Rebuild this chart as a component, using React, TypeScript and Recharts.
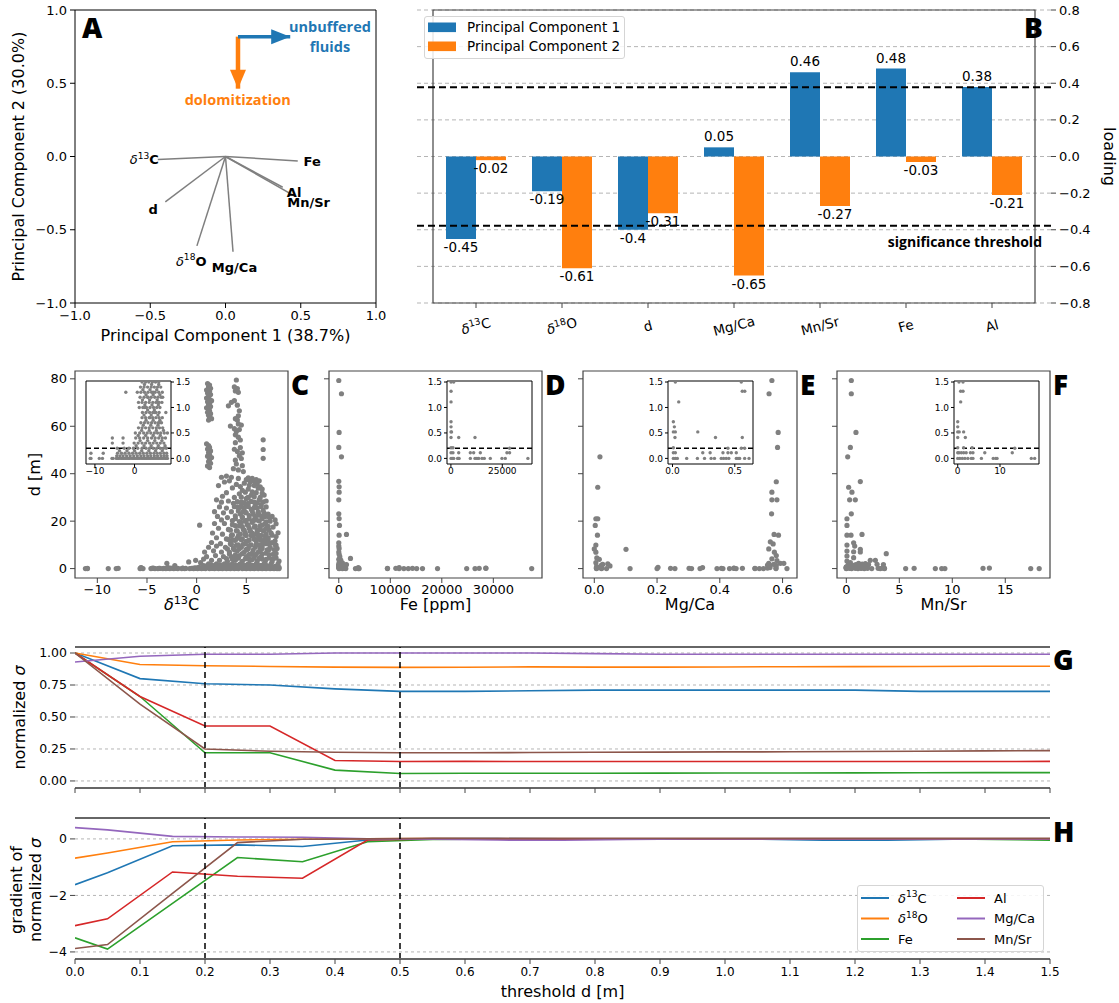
import React from 'react';
import {
  ScatterChart, Scatter, XAxis, YAxis, ReferenceArea, ReferenceLine,
  BarChart, Bar, LabelList, CartesianGrid, LineChart, Line, Legend,
} from 'recharts';

const FONT = '"DejaVu Sans", sans-serif';
const HEAD_FONT = '"Open Sans", "DejaVu Sans", sans-serif';
const GREY = '#808080';
const SPINE = '#444444';
const BLUE = '#1f77b4';
const ORANGE = '#ff7f0e';
const GREEN = '#2ca02c';
const RED = '#d62728';
const PURPLE = '#9467bd';
const BROWN = '#8c564b';

// ---------------- PCA loadings (panels A, B)
const VARIABLES = ['δ13C', 'δ18O', 'd', 'Mg/Ca', 'Mn/Sr', 'Fe', 'Al'];
const PC1_LOADING = [-0.45, -0.19, -0.4, 0.05, 0.46, 0.48, 0.38];
const PC2_LOADING = [-0.02, -0.61, -0.31, -0.65, -0.27, -0.03, -0.21];
const SIGNIFICANCE = 0.378;
const PC_TICKS = [-1, -0.5, 0, 0.5, 1];
const LOADING_TICKS = [-0.8, -0.6, -0.4, -0.2, 0, 0.2, 0.4, 0.6, 0.8];

// ---------------- scatter data (panels C-F): [value, d]
type Pt = [number, number];
const D_TICKS = [0, 20, 40, 60, 80];
const INSET_TICKS = [0, 0.5, 1, 1.5];
const INSET_THRESHOLD = 0.2;

const C_UPPER: Pt[] = [
  [1.1, 78], [1.3, 77.4], [1.2, 76.6], [1.4, 76], [1.0, 75.3], [1.3, 74.8], [1.1, 74], [1.4, 73.4], [1.2, 72.6], [1.0, 71.9],
  [1.3, 71.3], [1.5, 70.8], [1.1, 70.3], [1.3, 69.7], [1.2, 69], [1.4, 68.3], [1.0, 67.8], [1.2, 67.2], [1.3, 66.5], [1.1, 65.9],
  [1.4, 65.3], [1.2, 64.6], [1.3, 63.9], [1.5, 63.2], [1.2, 62.6],
  [1.0, 52.6], [1.2, 51.9], [1.3, 51.1], [1.1, 50.4], [1.4, 49.6], [1.2, 48.9], [1.3, 48.1], [1.1, 47.4], [1.5, 46.8], [1.3, 46],
  [1.2, 45.1], [1.4, 44.4], [1.1, 43.3], [1.3, 42.6],
  [4.0, 79.5], [3.8, 76.6], [4.1, 75.9], [3.9, 74.9], [4.2, 74.3], [3.2, 68.6], [3.5, 70.1], [3.8, 70.8], [4.1, 68.9], [4.3, 66.5],
  [4.2, 64.4], [3.4, 60.1], [4.1, 62.6], [4.0, 57.8], [4.2, 55.4], [3.9, 53.1], [4.4, 51], [4.1, 49.4], [4.3, 47.6], [4.5, 46.4],
  [4.0, 44.1], [4.6, 43.4], [3.7, 42.1], [4.2, 41.6], [4.7, 40.9], [3.8, 59], [4.3, 58.6], [4.2, 61], [3.9, 63.2], [4.5, 60.5],
  [3.9, 56.4], [4.4, 54.2], [3.8, 50.3], [4.6, 48.8], [3.9, 45.7],
  [6.7, 54.3], [6.7, 50.2], [6.7, 46.5], [0.3, 18.3],
  [2.5, 38.5], [3.0, 39], [3.5, 38.5], [4.2, 38], [5.0, 37.5], [5.6, 38], [6.0, 37.5], [6.3, 37], [5.4, 36.5], [4.8, 36],
  [3.3, 37], [2.8, 36.5], [4.0, 35.5], [5.8, 35], [6.4, 34.5], [6.6, 33.5], [3.6, 34], [2.2, 35], [4.6, 33], [5.2, 33.5],
  [6.0, 32], [3.0, 32], [4.3, 31.5], [5.5, 31], [6.8, 31], [2.6, 30.5], [3.8, 30], [5.0, 29.5], [6.3, 29], [7.0, 28.5],
  [2.0, 29], [2.5, 28], [3.2, 28.5], [3.7, 27.5], [4.5, 28], [5.2, 27.5], [5.8, 28], [6.5, 27], [7.0, 26], [2.3, 26],
  [3.0, 25.5], [4.1, 26], [4.8, 25.5], [5.5, 25], [6.1, 25.5], [6.7, 24.5], [1.8, 24], [2.7, 23.5], [3.5, 24], [4.4, 23],
  [5.0, 23.5], [5.7, 23], [6.3, 22.5], [7.2, 23], [7.6, 22], [2.1, 22], [3.1, 21.5], [3.9, 21], [4.6, 21.5], [5.3, 21],
  [6.0, 20.5], [6.6, 21], [7.4, 20], [7.9, 20.5], [2.5, 20.5], [4.9, 20], [5.6, 19.5],
  [1.8, 19], [2.8, 19], [3.6, 18.5], [4.3, 18], [5.1, 18.5], [5.8, 17.5], [6.4, 18], [7.0, 17], [7.7, 17.5], [2.2, 17],
  [3.2, 16.5], [4.0, 16], [4.7, 16.5], [5.4, 16], [6.1, 15.5], [6.8, 16], [7.5, 15], [1.6, 15], [2.6, 14.5], [3.5, 14],
  [4.4, 14.5], [5.0, 14], [5.7, 13.5], [6.5, 14], [7.2, 13], [8.0, 13.5], [2.0, 13], [3.0, 12.5], [3.8, 12], [4.6, 12.5],
  [5.3, 12], [6.0, 11.5], [6.8, 12], [7.6, 11], [1.5, 11], [2.4, 10.5], [3.4, 10.5], [4.2, 10], [4.9, 10.5], [5.5, 10],
  [6.3, 10], [7.0, 10.5], [7.9, 10],
  [1.2, 9], [2.0, 9.5], [2.9, 9], [3.7, 8.5], [4.5, 9], [5.2, 8.5], [5.9, 9], [6.6, 8.5], [7.3, 8], [8.1, 8.5],
  [0.8, 7], [1.7, 7.5], [2.5, 7], [3.3, 7], [4.1, 7.5], [4.8, 7], [5.6, 6.5], [6.2, 7], [7.0, 6.5], [7.7, 6],
  [1.0, 5], [1.9, 5.5], [2.7, 5], [3.5, 5], [4.3, 5.5], [5.0, 5], [5.8, 4.5], [6.5, 5], [7.3, 4.5], [8.0, 4.5],
  [0.7, 4], [1.5, 3.5], [2.3, 3.5], [3.1, 3], [3.9, 3.5], [4.6, 3], [5.4, 3.5], [6.1, 3], [6.9, 3], [7.6, 3],
  [-0.8, 2.8], [-3.0, 2.2], [-0.1, 3.5], [0.4, 2.5], [1.2, 2], [2.0, 2], [2.8, 2], [3.6, 2], [4.4, 2], [5.2, 2],
  [6.0, 2], [6.8, 2], [7.5, 2], [8.2, 2],
  [4.7, 24], [5.9, 22], [6.9, 19], [5.6, 15], [6.2, 12.5], [4.1, 12.8], [5.1, 8], [6.0, 6], [6.7, 10.8], [5.3, 17],
  [4.5, 19.5], [6.4, 16.5], [7.0, 14.5], [5.8, 20.5], [6.9, 22], [5.0, 26.5], [6.2, 23.5], [4.9, 15], [5.5, 6], [6.4, 7.5],
  [4.0, 4.5], [5.0, 11.5], [6.6, 4], [7.4, 9], [3.6, 12], [5.9, 26.5], [6.4, 30], [5.2, 30], [4.5, 26.5], [6.0, 14.5], [5.3, 4],
];
const C_CORE: Pt[] = [
  [3.4, 1.2], [3.9, 0.8], [4.7, 1.3], [5.1, 0.9], [5.9, 1.1], [6.3, 0.7], [7.1, 1.2], [7.9, 0.9], [2.6, 1.0],
  [3.0, 4.2], [3.6, 3.9], [4.2, 4.4], [4.9, 4.1], [5.6, 3.8], [6.3, 4.3], [7.0, 3.9], [7.7, 4.1], [8.3, 3.2],
  [3.3, 6.1], [3.9, 5.8], [4.6, 6.3], [5.3, 6.0], [5.9, 5.7], [6.6, 6.2], [7.3, 5.9], [8.0, 6.4],
  [3.1, 8.3], [3.8, 7.9], [4.3, 8.4], [5.0, 8.1], [5.7, 7.8], [6.4, 8.3], [7.1, 7.9], [7.8, 8.0],
  [3.5, 10.2], [4.0, 9.8], [4.7, 10.3], [5.3, 9.7], [6.0, 10.1], [6.6, 9.6], [7.3, 10.4], [8.0, 9.9],
  [3.2, 12.3], [3.9, 11.9], [4.5, 12.2], [5.2, 11.8], [5.8, 12.4], [6.5, 11.9], [7.2, 12.1], [7.9, 11.7],
  [3.6, 14.2], [4.2, 13.8], [4.9, 14.3], [5.5, 13.9], [6.2, 14.2], [6.9, 13.7], [7.6, 14.1], [8.2, 15.1],
  [3.4, 16.2], [4.1, 15.8], [4.8, 16.1], [5.4, 15.7], [6.1, 16.3], [6.7, 15.9], [7.3, 16.2],
  [3.9, 18.1], [4.6, 17.7], [5.2, 18.2], [5.9, 17.9], [6.6, 18.3], [7.2, 17.8], [8.0, 18.9],
  [3.6, 20.2], [4.3, 19.8], [5.0, 20.3], [5.6, 19.9], [6.3, 20.1], [7.0, 19.7],
  [3.9, 22.2], [4.6, 21.8], [5.3, 22.3], [5.9, 21.7], [6.6, 22.1], [7.3, 21.6],
  [4.2, 24.3], [4.9, 23.8], [5.6, 24.2], [6.2, 23.9], [6.8, 23.4],
  [3.8, 26.1], [4.4, 25.8], [5.2, 26.2], [5.8, 25.7], [6.5, 26.1],
  [4.1, 28.2], [4.8, 27.8], [5.5, 28.3], [6.1, 27.7], [6.7, 28.1],
  [4.5, 30.1], [5.1, 29.8], [5.8, 30.3], [6.6, 31.8], [4.9, 32.2], [5.6, 32.4], [6.2, 33.9], [5.3, 35.1], [5.9, 36.2],
  [4.4, 34.6], [6.1, 35.8], [5.2, 38.2], [5.8, 36.9],
];
const C_LOW_ROWS: [number, number[]][] = [
  [0, [-11.2, -11.0, -8.9, -8.1, -5.7, -5.4, -4.6, -4.2, -3.9, -3.4, -3.1, -2.7, -2.3, -1.9, -1.5, -1.2, -0.7, -0.3, 0.1, 0.5, 0.9, 1.3, 1.8, 2.2, 2.6, 3.0, 3.4, 3.8, 4.2, 4.6, 5.0, 5.4, 5.8, 6.2, 6.6, 7.0, 7.4, 7.8, 8.1, 8.3]],
  [0.05, [-4.5, -3.7, -2.9, -2.0, -1.1, -0.2, 0.7, 1.6, 2.4, 3.3, 4.1, 5.0, 5.8, 6.7, 7.5, 8.2]],
  [0.1, [-11.0, -7.9, -4.3, -3.3, -2.4, -1.4, -0.5, 0.4, 1.3, 2.2, 3.1, 4.0, 4.9, 5.7, 6.5, 7.4, 8.1]],
  [0.15, [-3.8, -1.9, 0.0, 1.8, 3.6, 5.3, 7.0]],
  [0.2, [-4.4, -2.6, -1.4, -0.3, 0.8, 1.9, 2.9, 3.8, 4.7, 5.6, 6.5, 7.3, 8.0]],
  [0.25, [0.4, 2.4, 4.2, 6.0, 7.7]],
  [0.3, [-5.6, -2.9, -0.1, 0.9, 1.9, 2.8, 3.8, 4.7, 5.6, 6.5, 7.4]],
  [0.35, [1.4, 3.3, 5.1, 6.9]],
  [0.4, [-5.6, -2.9, 0.3, 1.3, 2.3, 3.3, 4.3, 5.2, 6.1, 7.0, 7.8]],
  [0.45, [0.9, 2.8, 4.7, 6.5]],
  [0.5, [0.2, 1.3, 2.3, 3.2, 4.1, 5.0, 5.8, 6.6, 7.5, 8.3]],
  [0.55, [1.8, 3.7, 5.5, 7.3]],
  [0.6, [1.0, 1.9, 2.8, 3.7, 4.6, 5.5, 6.3, 7.1]],
  [0.65, [2.2, 4.1, 5.9]],
  [0.7, [1.6, 2.5, 3.4, 4.3, 5.2, 6.0, 6.8]],
  [0.75, [2.9, 4.7, 6.4]],
  [0.8, [1.9, 2.8, 3.7, 4.6, 5.4, 6.2, 7.0]],
  [0.85, [2.4, 4.2, 5.9]],
  [0.9, [2.0, 2.9, 3.8, 4.6, 5.4, 6.2]],
  [0.95, [3.3, 5.0]],
  [1.0, [1.2, 2.1, 3.0, 3.9, 4.8, 5.6, 6.4]],
  [1.05, [2.6, 4.4, 6.0]],
  [1.1, [1.0, 1.9, 2.8, 3.7, 4.6, 5.4, 6.2, 6.9]],
  [1.15, [2.0, 3.8, 5.7]],
  [1.2, [1.4, 2.4, 3.3, 4.2, 5.1, 5.9, 6.7]],
  [1.25, [2.9, 4.7, 6.4]],
  [1.3, [-2.2, 0.7, 1.6, 2.5, 3.4, 4.3, 5.2, 6.1, 7.0]],
  [1.35, [2.1, 3.9, 5.6]],
  [1.4, [1.5, 2.4, 3.3, 4.2, 5.0, 5.8, 6.6]],
  [1.45, [2.5, 4.3, 6.1]],
  [1.5, [1.9, 2.8, 3.6, 4.5, 5.3, 6.1]],
];
const D_FE: Pt[] = [
  [0, 79.3], [520, 73.7], [65, 57.4], [0, 51.1], [520, 47.1], [0, 36.8], [65, 34.5], [65, 32.2], [0, 29], [0, 23.1],
  [65, 21.1], [130, 18.2], [65, 14.1], [1490, 14.4], [0, 10.9], [0, 9.5], [65, 8.5], [0, 7], [65, 6], [200, 5],
  [0, 3.9], [390, 3.6], [65, 2.5], [0, 1.8], [520, 1.9], [2270, 4.3], [1490, 1.7], [260, 2.2], [700, 2.4],
  [65, 1.5], [1360, 1.5], [65, 1.32], [65, 1.11], [65, 0.72], [65, 0.62], [65, 0.52], [300, 0.52], [65, 0.41], [3790, 0.41],
  [11720, 0.41], [65, 0.21], [1000, 0.21], [65, 0.11], [1000, 0.11], [3790, 0.11], [9450, 0.11], [11070, 0.11], [14310, 0.11],
  [27260, 0.11], [28550, 0.11], [28550, 0.2], [65, 0], [700, 0], [1360, 0], [3240, 0], [3790, 0], [3950, 0], [9450, 0],
  [11720, 0], [12630, 0], [13500, 0], [15120, 0], [16250, 0], [19170, 0], [24830, 0], [26450, 0], [37450, 0],
];
const E_MGCA: Pt[] = [
  [0.566, 79.3], [0.557, 73.7], [0.586, 57.4], [0.584, 51.1], [0.018, 47.1], [0.011, 34.3], [0.58, 36.6], [0.566, 32.2],
  [0.582, 29], [0.566, 29], [0.565, 23.1], [0.005, 21], [0.011, 21], [0.003, 18.2], [0.01, 14.1], [0.005, 9.9], [0.0, 8.3],
  [0.005, 6.9], [0.008, 4.5], [0.016, 3.9], [0.005, 2.5], [0.027, 1.8], [0.043, 2.0], [0.101, 8.1], [0.573, 14.4],
  [0.587, 14.1], [0.561, 11.3], [0.57, 10.4], [0.556, 8.3], [0.574, 6.9], [0.58, 5.5], [0.566, 4.1], [0.582, 3.4],
  [0.593, 2.2], [0.604, 2.2], [0.556, 2.2], [0.572, 1.8],
  [0.023, 1.5], [0.552, 1.5], [0.05, 1.11], [0.56, 1.32], [0.58, 1.32], [0.007, 0.72], [0.015, 0.62], [0.007, 0.52],
  [0.023, 0.52], [0.02, 0.41], [0.203, 0.52], [0.345, 0.41], [0.56, 0.41], [0.007, 0.21], [0.007, 0.11], [0.023, 0.11],
  [0.243, 0.11], [0.302, 0.11], [0.405, 0.11], [0.445, 0.11], [0.472, 0.11], [0.512, 0.11], [0.445, 0.2], [0.552, 0.2],
  [0.579, 0.2], [0.007, 0], [0.023, 0], [0.039, 0], [0.114, 0], [0.2, 0], [0.257, 0], [0.31, 0], [0.337, 0], [0.391, 0],
  [0.41, 0], [0.431, 0], [0.452, 0], [0.512, 0], [0.526, 0], [0.539, 0], [0.579, 0], [0.614, 0],
];
const F_MNSR: Pt[] = [
  [0.47, 79.3], [0.47, 73.7], [0.91, 57.4], [0.38, 51.1], [0.13, 47.1], [1.32, 36.7], [0.22, 34.3], [0.53, 32.2], [0.31, 29],
  [0.85, 29], [0.47, 23.1], [0.06, 21], [0.06, 18.2], [0.06, 14.1], [0.44, 14.1], [1.48, 14.4], [0.06, 9.9], [0.69, 10.9],
  [0.79, 9.5], [0.06, 7.4], [0.69, 7.1], [1.32, 8.1], [1.32, 7.0], [3.77, 6.3], [0.06, 5.3], [0.69, 4.6], [0.06, 3.2],
  [2.26, 3.5], [2.74, 3.5], [0.38, 2.5], [1.16, 2.2], [1.8, 2.1], [0.2, 1.8], [0.9, 1.7], [1.5, 1.9], [2.1, 1.7], [2.9, 1.8],
  [3.5, 1.7],
  [0.3, 1.5], [1.25, 1.5], [0.7, 1.32], [1.25, 1.32], [0.7, 1.11], [0, 0.72], [0, 0.62], [0, 0.52], [0.35, 0.52], [1.4, 0.52],
  [0, 0.41], [1.8, 0.41], [0, 0.21], [1.4, 0.21], [3.4, 0.21], [13.5, 0.2], [0, 0.11], [0.3, 0.11], [0.85, 0.11], [1.4, 0.11],
  [2.0, 0.11], [3.0, 0.11], [3.6, 0.11], [6.4, 0.11], [12.9, 0.11], [0, 0], [0.5, 0], [1.1, 0], [1.7, 0], [2.4, 0], [3.2, 0],
  [3.6, 0], [5.6, 0], [8.4, 0], [9.0, 0], [9.3, 0], [17.4, 0], [18.2, 0],
];

// ---------------- threshold analysis (panels G, H)
const THRESHOLD_TICKS = [0, 0.1, 0.2, 0.3, 0.4, 0.5, 0.6, 0.7, 0.8, 0.9, 1.0, 1.1, 1.2, 1.3, 1.4, 1.5];
const MARKED_THRESHOLDS = [0.2, 0.5];
const G_THRESHOLD = [0, 0.1, 0.2, 0.3, 0.4, 0.5, 0.6, 0.7, 0.8, 0.9, 1.0, 1.1, 1.2, 1.3, 1.4, 1.5];
const G_D13C = [1.0, 0.8, 0.76, 0.75, 0.72, 0.7, 0.7, 0.705, 0.71, 0.71, 0.71, 0.71, 0.71, 0.7, 0.7, 0.7];
const G_D18O = [1.0, 0.91, 0.9, 0.895, 0.89, 0.888, 0.889, 0.892, 0.89, 0.89, 0.891, 0.893, 0.894, 0.895, 0.896, 0.897];
const G_FE = [1.0, 0.66, 0.22, 0.22, 0.085, 0.058, 0.06, 0.06, 0.06, 0.061, 0.062, 0.062, 0.063, 0.064, 0.065, 0.065];
const G_AL = [1.0, 0.66, 0.43, 0.43, 0.16, 0.152, 0.153, 0.152, 0.152, 0.152, 0.152, 0.152, 0.152, 0.152, 0.152, 0.153];
const G_MGCA = [0.93, 0.975, 0.99, 0.99, 1.0, 1.0, 1.0, 1.0, 0.995, 0.99, 0.99, 0.99, 0.99, 0.99, 0.99, 0.99];
const G_MNSR = [1.0, 0.6, 0.25, 0.232, 0.224, 0.22, 0.221, 0.222, 0.224, 0.225, 0.227, 0.228, 0.23, 0.232, 0.235, 0.237];

const H_THRESHOLD = [0, 0.05, 0.15, 0.25, 0.35, 0.45, 0.55, 0.65, 0.75, 0.85, 0.95, 1.05, 1.15, 1.25, 1.35, 1.45, 1.5];
const H_D13C = [-1.62, -1.2, -0.24, -0.21, -0.27, -0.04, 0.01, 0.01, 0.0, 0.0, 0.0, -0.01, -0.05, -0.05, -0.01, 0.0, 0.0];
const H_D18O = [-0.68, -0.5, -0.1, -0.04, -0.01, 0.0, 0.01, 0.0, 0.0, 0.0, 0.0, 0.0, 0.0, 0.0, 0.0, 0.0, 0.0];
const H_FE = [-3.5, -3.9, -2.28, -0.66, -0.81, -0.1, -0.02, 0.0, 0.0, 0.0, 0.0, 0.0, 0.0, 0.0, 0.0, -0.03, -0.05];
const H_AL = [-3.07, -2.83, -1.17, -1.32, -1.39, -0.04, 0.0, 0.0, 0.0, 0.0, 0.0, 0.0, 0.0, 0.0, 0.0, 0.0, 0.0];
const H_MGCA = [0.4, 0.32, 0.09, 0.07, 0.06, 0.0, -0.01, -0.04, -0.05, -0.02, 0.0, 0.0, 0.0, 0.0, 0.0, 0.0, 0.0];
const H_MNSR = [-3.88, -3.74, -1.93, -0.13, -0.01, 0.0, 0.02, 0.02, 0.02, 0.02, 0.02, 0.02, 0.02, 0.02, 0.02, 0.02, 0.02];

const SERIES = [
  { key: 'd13C', name: 'δ13C', color: BLUE },
  { key: 'd18O', name: 'δ18O', color: ORANGE },
  { key: 'fe', name: 'Fe', color: GREEN },
  { key: 'al', name: 'Al', color: RED },
  { key: 'mgca', name: 'Mg/Ca', color: PURPLE },
  { key: 'mnsr', name: 'Mn/Sr', color: BROWN },
];

// ---------------- derived tables
const toPts = (a: Pt[]) => a.map(([x, y]) => ({ x, y }));
const C_POINTS = [
  ...toPts(C_UPPER),
  ...toPts(C_CORE),
  ...C_LOW_ROWS.flatMap(([d, xs]) => xs.map((x) => ({ x, y: d }))),
];
const D_POINTS = toPts(D_FE);
const E_POINTS = toPts(E_MGCA);
const F_POINTS = toPts(F_MNSR);
const LOADINGS = VARIABLES.map((name, i) => ({ name, pc1: PC1_LOADING[i], pc2: PC2_LOADING[i] }));
const B_ROWS = LOADINGS;
const G_ROWS = G_THRESHOLD.map((x, i) => ({
  x, d13C: G_D13C[i], d18O: G_D18O[i], fe: G_FE[i], al: G_AL[i], mgca: G_MGCA[i], mnsr: G_MNSR[i],
}));
const H_ROWS = H_THRESHOLD.map((x, i) => ({
  x, d13C: H_D13C[i], d18O: H_D18O[i], fe: H_FE[i], al: H_AL[i], mgca: H_MGCA[i], mnsr: H_MNSR[i],
}));

// ---------------- helpers
const fmtNum = (v: number, digits: number) => (v < 0 ? '\u2212' : '') + Math.abs(v).toFixed(digits);

function varTspans(name: string, fs: number, bold = false) {
  const m = /^δ(\d+)(\w)$/.exec(name);
  const w = bold ? 'bold' : 'normal';
  if (!m) return <tspan fontWeight={w}>{name}</tspan>;
  const s = fs * 0.4;
  return [
    <tspan key="a" fontStyle="italic" fontWeight="normal">δ</tspan>,
    <tspan key="b" fontSize={fs * 0.7} fontWeight="normal" dy={-s}>{m[1]}</tspan>,
    <tspan key="c" fontWeight={w} dy={s}>{m[2]}</tspan>,
  ];
}

function place(rect: number[], pad: { l: number; t: number; r: number; b: number }) {
  const [L, T, R, B] = rect;
  return {
    style: { position: 'absolute' as const, left: L - pad.l, top: T - pad.t },
    width: R - L + pad.l + pad.r,
    height: B - T + pad.t + pad.b,
  };
}

const tickText = (fs: number) => ({ fontSize: fs, fill: '#000', fontFamily: FONT });
const noShape = () => <g />;
const bigDot = (p: any) => <circle cx={p.cx} cy={p.cy} r={2.6} fill={GREY} />;
const smallDot = (p: any) => <circle cx={p.cx} cy={p.cy} r={1.7} fill={GREY} />;

// ---------------- Panel A
const LoadingLabel = (p: any) => (
  <text x={p.cx} y={p.cy} dy="0.35em" textAnchor="middle" fontFamily={FONT} fontSize={13} fill="#000">
    {varTspans(p.payload.name, 13, true)}
  </text>
);
const makeArrowShape = (color: string) => (p: any) => {
  const { cx, cy, payload } = p;
  if (payload.head === 'down') return <polygon points={`${cx - 8},${cy - 19} ${cx + 8},${cy - 19} ${cx},${cy}`} fill={color} />;
  if (payload.head === 'right') return <polygon points={`${cx - 19},${cy - 7.5} ${cx - 19},${cy + 7.5} ${cx},${cy}`} fill={color} />;
  return <g />;
};
const AnnotationText = (p: any) => {
  const { cx, cy, payload } = p;
  const n = payload.lines.length;
  return (
    <text textAnchor="middle" fontFamily={HEAD_FONT} fontWeight={700} fontSize={14.5} fill={payload.color}>
      {payload.lines.map((t: string, i: number) => (
        <tspan key={i} x={cx} y={cy + (i - (n - 1) / 2) * 20 + 5}>{t}</tspan>
      ))}
    </text>
  );
};

function PanelA() {
  const pad = { l: 75, t: 10, r: 20, b: 45 };
  const p = place([75, 10, 376, 303], pad);
  const yw = 45, xh = 30;
  return (
    <div style={p.style}>
      <ScatterChart width={p.width} height={p.height} margin={{ left: pad.l - yw, right: pad.r, top: pad.t, bottom: pad.b - xh }}>
        <XAxis type="number" dataKey="x" domain={[-1, 1]} ticks={PC_TICKS} allowDataOverflow interval={0}
          tickFormatter={(v) => fmtNum(v, 1)} height={xh} axisLine={false} tickLine={{ stroke: '#000' }}
          tickSize={5} tickMargin={3} tick={tickText(13)} />
        <YAxis type="number" dataKey="y" domain={[-1, 1]} ticks={PC_TICKS} allowDataOverflow interval={0}
          tickFormatter={(v) => fmtNum(v, 1)} width={yw} axisLine={false} tickLine={{ stroke: '#000' }}
          tickSize={5} tickMargin={3} tick={tickText(13)} />
        <ReferenceArea x1={-1} x2={1} y1={-1} y2={1} fill="none" fillOpacity={0} stroke="#000" strokeWidth={1} ifOverflow="visible" />
        {LOADINGS.map((l) => (
          <Scatter key={l.name} data={[{ x: 0, y: 0 }, { x: l.pc1, y: l.pc2 }]} fill="#7f7f7f"
            line={{ stroke: '#7f7f7f', strokeWidth: 1.5 }} shape={noShape} isAnimationActive={false} />
        ))}
        <Scatter data={LOADINGS.map((l) => ({ x: l.pc1 * 1.2, y: l.pc2 * 1.17, name: l.name }))}
          shape={LoadingLabel} isAnimationActive={false} />
        <Scatter data={[{ x: 0.083, y: 0.818, head: '' }, { x: 0.083, y: 0.463, head: 'down' }]} fill={ORANGE}
          line={{ stroke: ORANGE, strokeWidth: 4.5 }} shape={makeArrowShape(ORANGE)} isAnimationActive={false} />
        <Scatter data={[{ x: 0.083, y: 0.818, head: '' }, { x: 0.43, y: 0.818, head: 'right' }]} fill={BLUE}
          line={{ stroke: BLUE, strokeWidth: 3.5 }} shape={makeArrowShape(BLUE)} isAnimationActive={false} />
        <Scatter data={[
          { x: 0.694, y: 0.815, lines: ['unbuffered', 'fluids'], color: BLUE },
          { x: 0.081, y: 0.383, lines: ['dolomitization'], color: ORANGE },
        ]} shape={AnnotationText} isAnimationActive={false} />
      </ScatterChart>
    </div>
  );
}

// ---------------- Panel B
const CategoryTick = (p: any) => {
  const { x, y, payload } = p;
  const cy = y + 16;
  return (
    <text x={x} y={cy} dy="0.35em" textAnchor="middle" transform={`rotate(-15 ${x} ${cy})`}
      fontFamily={FONT} fontSize={13.5} fill="#000">
      {varTspans(payload.value, 13.5)}
    </text>
  );
};
const BarValue = (p: any) => {
  const { x, y, width, height, value } = p;
  const top = Math.min(y, y + height);
  const bottom = Math.max(y, y + height);
  const ty = value >= 0 ? top - 6 : bottom + 13;
  return (
    <text x={x + width / 2} y={ty} textAnchor="middle" fontFamily={FONT} fontSize={13.5} fill="#000">{String(value)}</text>
  );
};
const SigLabel = (p: any) => {
  const vb = p.viewBox || { x: 0, y: 0, width: 0 };
  return (
    <text x={vb.x + vb.width - 9} y={vb.y + 21} textAnchor="end" fontFamily={HEAD_FONT} fontWeight={700} fontSize={14} fill="#000">
      significance threshold
    </text>
  );
};
const BLegend = () => (
  <div style={{ width: 201, height: 43, boxSizing: 'border-box', border: '1px solid #d5d5d5', borderRadius: 3, background: 'rgba(255,255,255,0.85)' }}>
    <svg width={199} height={41} style={{ display: 'block' }}>
      <rect x={3} y={5.5} width={28} height={9.6} fill={BLUE} />
      <rect x={3} y={24.5} width={28} height={9.6} fill={ORANGE} />
      <text x={42} y={14.5} fontFamily={FONT} fontSize={13.5} fill="#000">Principal Component 1</text>
      <text x={42} y={33.5} fontFamily={FONT} fontSize={13.5} fill="#000">Principal Component 2</text>
    </svg>
  </div>
);

function PanelB() {
  const pad = { l: 10, t: 10, r: 62, b: 45 };
  const p = place([417, 10, 1051, 303], pad);
  const yw = 50, xh = 40;
  return (
    <div style={p.style}>
      <BarChart width={p.width} height={p.height} data={B_ROWS} barGap={0} barSize={30}
        margin={{ left: pad.l, right: pad.r - yw, top: pad.t, bottom: pad.b - xh }}>
        <CartesianGrid vertical={false} stroke="#b5b5b5" strokeDasharray="4 3" />
        <XAxis dataKey="name" padding={{ left: 16, right: 16 }} height={xh} axisLine={false}
          tickLine={{ stroke: SPINE }} tickSize={5} interval={0} tick={<CategoryTick />} />
        <YAxis orientation="right" type="number" domain={[-0.8, 0.8]} ticks={LOADING_TICKS} allowDataOverflow interval={0}
          width={yw} tickFormatter={(v) => fmtNum(v, 1)} axisLine={false} tickLine={{ stroke: SPINE }}
          tickSize={5} tickMargin={3} tick={tickText(13)} />
        <Bar dataKey="pc1" fill={BLUE} isAnimationActive={false}>
          <LabelList dataKey="pc1" content={BarValue} />
        </Bar>
        <Bar dataKey="pc2" fill={ORANGE} isAnimationActive={false}>
          <LabelList dataKey="pc2" content={BarValue} />
        </Bar>
        <ReferenceLine y={SIGNIFICANCE} stroke="#000" strokeDasharray="7 4" strokeWidth={2} />
        <ReferenceLine y={-SIGNIFICANCE} stroke="#000" strokeDasharray="7 4" strokeWidth={2} label={SigLabel} />
        <ReferenceArea y1={-0.8} y2={0.8} fill="none" fillOpacity={0} stroke={SPINE} strokeWidth={1.2} ifOverflow="visible" />
        <Legend layout="horizontal" verticalAlign="middle" align="center"
          wrapperStyle={{ left: 424 - p.style.left, top: 16 - p.style.top, width: 201, height: 43 }}
          content={() => <BLegend />} />
      </BarChart>
    </div>
  );
}

// ---------------- Panels C-F
const D_DOMAIN: [number, number] = [-3.97, 83.3];
const INSET_DOMAIN: [number, number] = [-0.11, 1.52];

function ScatterPanel({ rect, points, xDomain, xTicks, digits, yLabels }: any) {
  const yw = yLabels ? 40 : 10;
  const xh = 22;
  const pad = { l: yLabels ? 60 : 12, t: 5, r: 2, b: 25 };
  const p = place(rect, pad);
  return (
    <div style={p.style}>
      <ScatterChart width={p.width} height={p.height} margin={{ left: pad.l - yw, right: pad.r, top: pad.t, bottom: pad.b - xh }}>
        <XAxis type="number" dataKey="x" domain={xDomain} ticks={xTicks} allowDataOverflow interval={0}
          tickFormatter={(v) => fmtNum(v, digits)} height={xh} axisLine={false} tickLine={{ stroke: SPINE }}
          tickSize={5} tickMargin={2} tick={tickText(13)} />
        <YAxis type="number" dataKey="y" domain={D_DOMAIN} ticks={D_TICKS} allowDataOverflow interval={0}
          tickFormatter={(v) => (yLabels ? String(v) : '')} width={yw} axisLine={false} tickLine={{ stroke: SPINE }}
          tickSize={5} tickMargin={3} tick={tickText(13)} />
        <ReferenceArea x1={xDomain[0]} x2={xDomain[1]} y1={D_DOMAIN[0]} y2={D_DOMAIN[1]} fill="none" fillOpacity={0}
          stroke={SPINE} strokeWidth={1.2} ifOverflow="visible" />
        <Scatter data={points} shape={bigDot} isAnimationActive={false} />
      </ScatterChart>
    </div>
  );
}

function InsetPanel({ rect, points, xDomain, xTicks, digits, yRight }: any) {
  const yw = 24, xh = 16;
  const pad = yRight ? { l: 2, t: 3, r: 26, b: 18 } : { l: 26, t: 3, r: 2, b: 18 };
  const p = place(rect, pad);
  const [L, T, R, B] = rect;
  return (
    <>
      <div style={{ position: 'absolute', left: L, top: T, width: R - L, height: B - T, background: '#fff' }} />
      <div style={p.style}>
        <ScatterChart width={p.width} height={p.height}
          margin={{ left: yRight ? pad.l : pad.l - yw, right: yRight ? pad.r - yw : pad.r, top: pad.t, bottom: pad.b - xh }}>
          <XAxis type="number" dataKey="x" domain={xDomain} ticks={xTicks} allowDataOverflow interval={0}
            tickFormatter={(v) => fmtNum(v, digits)} height={xh} axisLine={false} tickLine={{ stroke: '#000' }}
            tickSize={3} tickMargin={1} tick={tickText(9)} />
          <YAxis type="number" dataKey="y" orientation={yRight ? 'right' : 'left'} domain={INSET_DOMAIN} ticks={INSET_TICKS}
            allowDataOverflow interval={0} tickFormatter={(v) => fmtNum(v, 1)} width={yw} axisLine={false}
            tickLine={{ stroke: '#000' }} tickSize={3} tickMargin={2} tick={tickText(9)} />
          <Scatter data={points.filter((q: any) => q.y <= 1.6)} shape={smallDot} isAnimationActive={false} />
          <ReferenceLine y={INSET_THRESHOLD} stroke="#000" strokeDasharray="5 3" strokeWidth={1.6} />
          <ReferenceArea x1={xDomain[0]} x2={xDomain[1]} y1={INSET_DOMAIN[0]} y2={INSET_DOMAIN[1]} fill="none" fillOpacity={0}
            stroke="#000" strokeWidth={1} ifOverflow="visible" />
        </ScatterChart>
      </div>
    </>
  );
}

// ---------------- Panels G, H
const HLegend = () => (
  <div style={{ width: 187, height: 67, boxSizing: 'border-box', border: '1px solid #d5d5d5', borderRadius: 3, background: 'rgba(255,255,255,0.85)' }}>
    <svg width={185} height={65} style={{ display: 'block' }}>
      {SERIES.map((s, i) => {
        const col = Math.floor(i / 3);
        const row = i % 3;
        const x = 3 + col * 96;
        const y = 12 + row * 20.5;
        return (
          <g key={s.key}>
            <line x1={x} x2={x + 28} y1={y} y2={y} stroke={s.color} strokeWidth={2} />
            <text x={x + 37} y={y + 4.5} fontFamily={FONT} fontSize={13} fill="#000">{varTspans(s.name, 13)}</text>
          </g>
        );
      })}
    </svg>
  </div>
);

function ThresholdPanel({ rect, rows, domain, yTicks, yDigits, showX, legend }: any) {
  const yw = 45;
  const xh = showX ? 25 : 8;
  const pad = { l: 75, t: 5, r: 10, b: showX ? 30 : 10 };
  const p = place(rect, pad);
  return (
    <div style={p.style}>
      <LineChart width={p.width} height={p.height} data={rows}
        margin={{ left: pad.l - yw, right: pad.r, top: pad.t, bottom: pad.b - xh }}>
        <CartesianGrid vertical={false} stroke="#b5b5b5" strokeDasharray="3 3" />
        <XAxis type="number" dataKey="x" domain={[0, 1.5]} ticks={THRESHOLD_TICKS} allowDataOverflow interval={0}
          tickFormatter={(v) => (showX ? v.toFixed(1) : '')} height={xh} axisLine={{ stroke: '#666', strokeWidth: 2 }}
          tickLine={{ stroke: SPINE }} tickSize={5} tickMargin={3} tick={tickText(12)} />
        <YAxis type="number" domain={domain} ticks={yTicks} allowDataOverflow interval={0} width={yw}
          tickFormatter={(v) => fmtNum(v, yDigits)} axisLine={false} tickLine={{ stroke: SPINE }}
          tickSize={5} tickMargin={3} tick={tickText(12.5)} />
        <ReferenceLine y={domain[1]} stroke="#666" strokeWidth={2} ifOverflow="visible" />
        {SERIES.map((s) => (
          <Line key={s.key} type="linear" dataKey={s.key} stroke={s.color} strokeWidth={1.6} dot={false}
            isAnimationActive={false} />
        ))}
        {MARKED_THRESHOLDS.map((t) => (
          <ReferenceLine key={t} x={t} stroke="#000" strokeDasharray="6 4" strokeWidth={1.5} />
        ))}
        {legend && (
          <Legend layout="horizontal" verticalAlign="middle" align="center"
            wrapperStyle={{ left: 857 - p.style.left, top: 885 - p.style.top, width: 187, height: 67 }}
            content={() => <HLegend />} />
        )}
      </LineChart>
    </div>
  );
}

// ---------------- titles & panel letters
function Overlay() {
  const t = { fontFamily: FONT, fontSize: 16, fill: '#000' };
  const letter = { fontFamily: HEAD_FONT, fontWeight: 800, fontSize: 28, fill: '#000' };
  return (
    <svg width={1119} height={1003} style={{ position: 'absolute', left: 0, top: 0, pointerEvents: 'none' }}>
      <text x={225.5} y={341} textAnchor="middle" {...t}>Principal Component 1 (38.7%)</text>
      <text x={24} y={156.5} textAnchor="middle" transform="rotate(-90 24 156.5)" {...t}>Principal Component 2 (30.0%)</text>
      <text x={1104} y={156.5} textAnchor="middle" transform="rotate(90 1104 156.5)" {...t}>loading</text>
      <text x={40} y={474.5} textAnchor="middle" transform="rotate(-90 40 474.5)" {...t}>d [m]</text>
      <text x={181.5} y={610} textAnchor="middle" {...t}>{varTspans('δ13C', 16)}</text>
      <text x={435.5} y={610} textAnchor="middle" {...t}>Fe [ppm]</text>
      <text x={690} y={610} textAnchor="middle" {...t}>Mg/Ca</text>
      <text x={943.5} y={610} textAnchor="middle" {...t}>Mn/Sr</text>
      <text x={25} y={717.5} textAnchor="middle" transform="rotate(-90 25 717.5)" {...t}>
        normalized <tspan fontStyle="italic">σ</tspan>
      </text>
      <text x={22} y={890} textAnchor="middle" transform="rotate(-90 22 890)" {...t}>gradient of</text>
      <text x={41} y={890} textAnchor="middle" transform="rotate(-90 41 890)" {...t}>
        normalized <tspan fontStyle="italic">σ</tspan>
      </text>
      <text x={562.5} y={997} textAnchor="middle" {...t}>threshold d [m]</text>
      <text x={82} y={38} {...letter}>A</text>
      <text x={1024} y={38} {...letter}>B</text>
      <text x={291} y={395} {...letter}>C</text>
      <text x={545} y={395} {...letter}>D</text>
      <text x={800} y={395} {...letter}>E</text>
      <text x={1053} y={395} {...letter}>F</text>
      <text x={1053} y={670} {...letter}>G</text>
      <text x={1053} y={842} {...letter}>H</text>
    </svg>
  );
}

const C_DOMAIN = [-12.25, 9.2];
const FE_DOMAIN = [-1900, 39450];
const MG_DOMAIN = [-0.036, 0.646];
const MN_DOMAIN = [-0.88, 19.22];

export default function App() {
  return (
    <div style={{ position: 'absolute', left: 0, top: 0, width: 1119, height: 1003, background: '#fff', overflow: 'hidden' }}>
      <PanelA />
      <PanelB />
      <ScatterPanel rect={[75, 371, 288, 578]} points={C_POINTS} xDomain={C_DOMAIN} xTicks={[-10, -5, 0, 5]} digits={0} yLabels />
      <ScatterPanel rect={[329, 371, 542, 578]} points={D_POINTS} xDomain={FE_DOMAIN} xTicks={[0, 10000, 20000, 30000]} digits={0} />
      <ScatterPanel rect={[583, 371, 797, 578]} points={E_POINTS} xDomain={MG_DOMAIN} xTicks={[0, 0.2, 0.4, 0.6]} digits={1} />
      <ScatterPanel rect={[837, 371, 1050, 578]} points={F_POINTS} xDomain={MN_DOMAIN} xTicks={[0, 5, 10, 15]} digits={0} />
      <InsetPanel rect={[86, 381, 171, 464]} points={C_POINTS} xDomain={C_DOMAIN} xTicks={[-10, 0]} digits={0} yRight />
      <InsetPanel rect={[447, 381, 532, 464]} points={D_POINTS} xDomain={FE_DOMAIN} xTicks={[0, 25000]} digits={0} />
      <InsetPanel rect={[668, 381, 753, 464]} points={E_POINTS} xDomain={MG_DOMAIN} xTicks={[0, 0.5]} digits={1} />
      <InsetPanel rect={[954, 381, 1039, 464]} points={F_POINTS} xDomain={MN_DOMAIN} xTicks={[0, 10]} digits={0} />
      <ThresholdPanel rect={[75, 647, 1050, 788]} rows={G_ROWS} domain={[-0.055, 1.047]} yTicks={[0, 0.25, 0.5, 0.75, 1]} yDigits={2} />
      <ThresholdPanel rect={[75, 818, 1050, 959]} rows={H_ROWS} domain={[-4.25, 0.74]} yTicks={[-4, -2, 0]} yDigits={0} showX legend />
      <Overlay />
    </div>
  );
}
